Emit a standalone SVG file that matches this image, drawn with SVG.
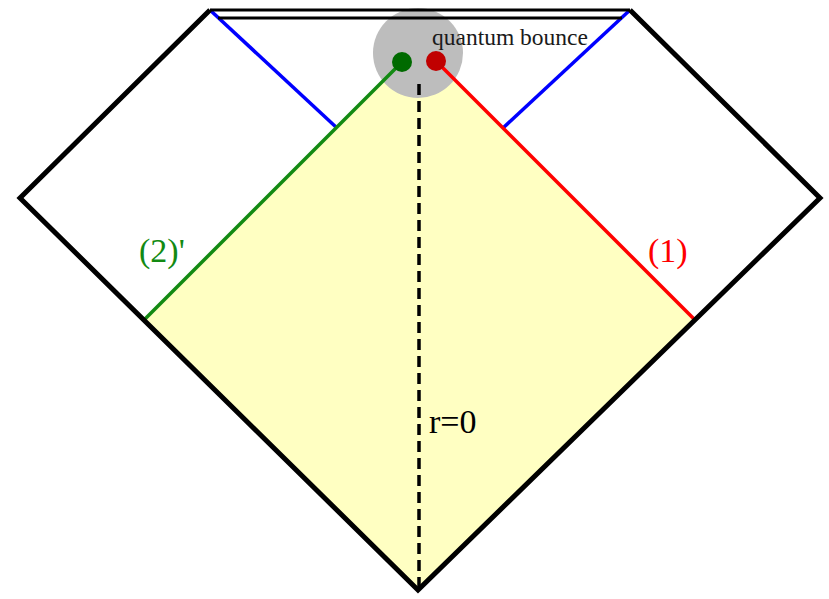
<svg xmlns="http://www.w3.org/2000/svg" width="829" height="599" viewBox="0 0 829 599">
<style>
.edge{fill:none;stroke:#000;stroke-width:5;stroke-linejoin:miter}
.top{fill:none;stroke:#000;stroke-width:3}
.blue{stroke:#0000ff;stroke-width:3.5}
.lbl{font-family:"Liberation Serif","Times New Roman",serif}
</style>
<rect width="829" height="599" fill="#fff"/>
<g id="region">
<polygon points="402,62 144,320 418,590 695,320 436,61" fill="#ffffc2"/>
</g>
<g id="bounce">
<circle cx="418" cy="53" r="45" fill="#bdbdbd"/>
</g>
<g id="connectors">
<line class="blue" x1="210" y1="10" x2="337" y2="128"/>
<line class="blue" x1="630" y1="10" x2="503" y2="128"/>
<line x1="402" y1="62" x2="144" y2="320" stroke="#138a13" stroke-width="3.5"/>
<line x1="436" y1="61" x2="695" y2="320" stroke="#ff0000" stroke-width="3.5"/>
<line x1="419" y1="84" x2="419" y2="590" stroke="#000" stroke-width="3.5" stroke-dasharray="11,6"/>
<polyline class="edge" points="210,10 20,198 418,590 820,198 630,10"/>
<line class="top" x1="210" y1="10" x2="630" y2="10"/>
<line class="top" x1="218" y1="18" x2="622" y2="18"/>
</g>
<g id="dots">
<circle cx="402" cy="62" r="10" fill="#006a00"/>
<circle cx="436" cy="61" r="10" fill="#c00000"/>
</g>
<g id="labels" class="lbl">
<text x="432" y="45" font-size="23.5" fill="#1a1a1a">quantum bounce</text>
<text x="139" y="262" font-size="34" fill="#138a13">(2)'</text>
<text x="648" y="262" font-size="34" fill="#ff0000">(1)</text>
<text x="429" y="433" font-size="34" fill="#000">r=0</text>
</g>
</svg>
